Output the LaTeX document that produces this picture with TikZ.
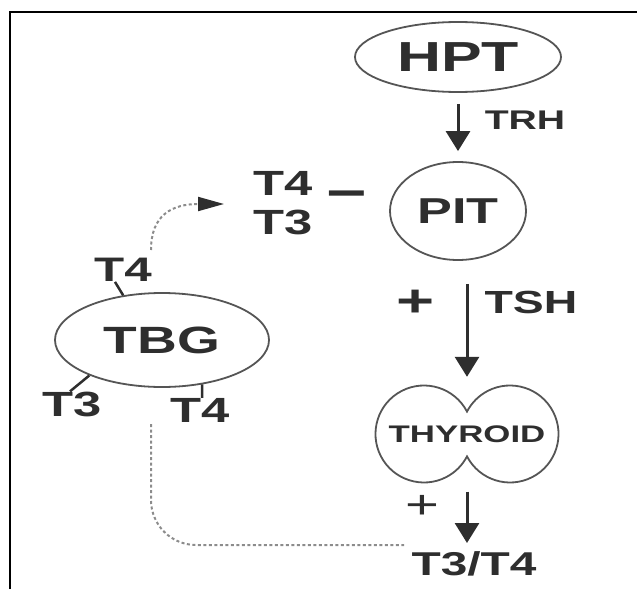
\documentclass[tikz,border=0pt]{standalone}
\usepackage{fontspec}
\setmainfont{Liberation Sans}[FakeStretch=1.45]
\usetikzlibrary{arrows.meta,shapes.geometric}
\definecolor{ink}{HTML}{2E2E2E}
\definecolor{edge}{HTML}{555555}
\definecolor{dots}{HTML}{8C8C8C}
\tikzset{
  lbl/.style={inner sep=0pt, text=ink, font=\bfseries\fontsize{#1}{#1}\selectfont},
  lbr/.style={inner sep=0pt, text=ink, font=\fontsize{#1}{#1}\selectfont},
  ov/.style={ellipse, draw=edge, line width=1.8pt, inner sep=0pt},
  arr/.style={draw=ink, line width=3pt, -{Triangle[width=24pt,length=20pt]}},
  tick/.style={draw=ink, line width=2.5pt},
  dotl/.style={draw=dots, line width=2pt, dash pattern=on 3pt off 2.5pt},
  frame/.style={draw=black, line width=2pt}
}
\begin{document}
\begin{tikzpicture}[x=1pt,y=-1pt]
\useasboundingbox (0,0) rectangle (637,589);
\draw[frame] (10,589) -- (10,12) -- (637,12);

% main nodes
\node[ov, lbl=42, minimum width=206pt, minimum height=70pt] (hpt) at (458,57) {HPT};
\node[ov, lbl=36, minimum width=136pt, minimum height=98pt] (pit) at (458,211) {PIT};
\node[ov, lbl=38, minimum width=214pt, minimum height=94pt] (tbg) at (162,340) {TBG};
\node[lbl=24, minimum width=194pt, minimum height=97pt] (thy) at (467,434) {THYROID};
\draw[draw=edge, line width=1.8pt] ([yshift=22.4pt]thy.center)
  arc[start angle=-27.5, end angle=-332.5, radius=48.5]
  arc[start angle=152.5, end angle=-152.5, radius=48.5] -- cycle;

% labels
\node[lbl=27] (trh) at (525,120) {TRH};
\node[lbl=35] (lt4) at (283,183) {T4};
\node[lbl=35] (lt3) at (283,222) {T3};
\node[lbl=48] (minus) at (347,200) {−};
\node[lbl=45] (plus1) at (416,303) {+};
\node[lbl=32] (tsh) at (531,302) {TSH};
\node[lbr=40] (plus2) at (422,507) {+};
\node[lbl=33, anchor=north] (t34) at (474,551) {T3/T4};
\node[lbl=34] (bt4a) at (123,270) {T4};
\node[lbl=35] (bt3) at (72,404) {T3};
\node[lbl=35] (bt4b) at (200,410) {T4};

% ticks on TBG
\draw[tick] (tbg.131) -- ([xshift=-8pt]bt4a.south);
\draw[tick] (tbg.206.6) -- ([xshift=-2pt]bt3.north);
\draw[tick] (tbg.-48.5) -- ([xshift=2pt]bt4b.north);

% arrows
\draw[arr, shorten <=11pt, shorten >=10pt] (hpt.south) -- (pit.north);
\draw[arr, shorten <=23pt, shorten >=8.5pt] (pit.south -| thy.north) -- (thy.north);
\draw[arr, shorten <=9pt, shorten >=8pt] (thy.south) -- (thy.south |- t34.north);

% dotted connectors
\coordinate (c1) at (151,250);
\coordinate (c2) at (224,204);
\draw[dotl, -{Triangle[width=14pt,length=26pt,color=ink]}] (c1) .. controls (151,215) and (172,204) .. (c2);
\coordinate (d1) at (151,424);
\coordinate (d2) at (404,545);
\draw[dotl, rounded corners=45pt] (d1) |- (d2);
\end{tikzpicture}
\end{document}
